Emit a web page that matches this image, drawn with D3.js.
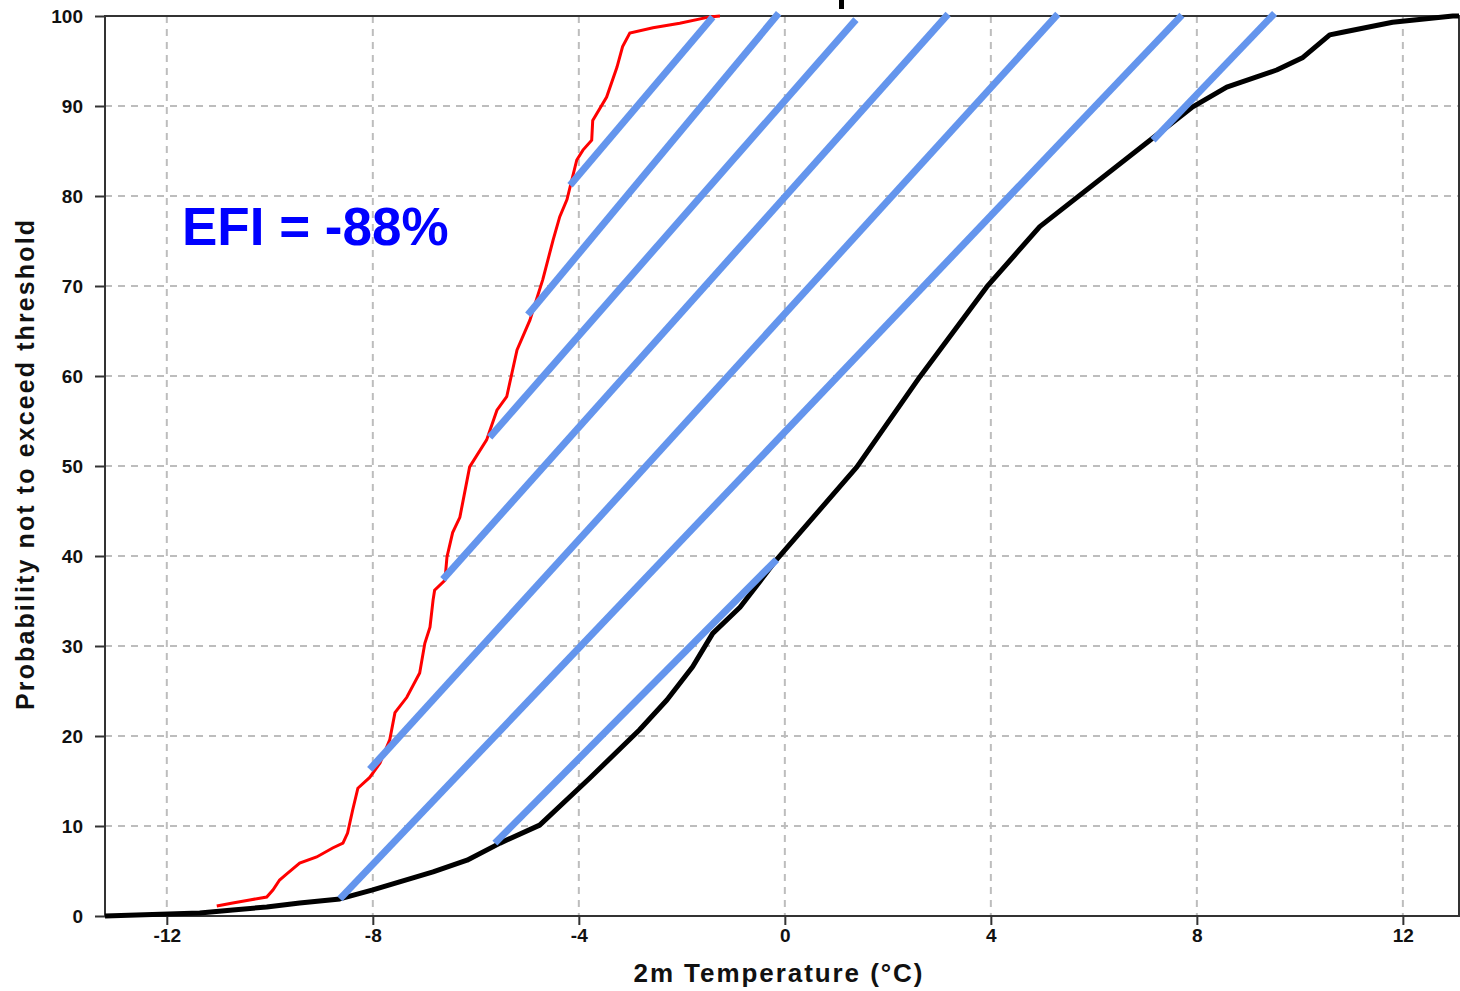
<!DOCTYPE html>
<html>
<head>
<meta charset="utf-8">
<script src="https://cdn.jsdelivr.net/npm/d3@7"></script>
<style>
  html, body { margin: 0; padding: 0; background: #fff; }
  svg { display: block; }
  text { font-family: "Liberation Sans", Arial, sans-serif; font-weight: bold; }
</style>
</head>
<body>
<svg id="chart" width="1460" height="991"></svg>
<script>
// ---- Data ----
const xTicks = [-12, -8, -4, 0, 4, 8, 12];
const yTicks = [0, 10, 20, 30, 40, 50, 60, 70, 80, 90, 100];

// Model climate CDF (black)
const climateT = [-13.2, -11.36, -10.72, -10.06, -9.42, -8.64, -8.0, -7.48, -6.83, -6.17, -5.53, -4.76, -3.79, -2.82, -2.29, -1.79, -1.40, -0.87, -0.16, 1.40, 2.62, 3.92, 4.95, 7.09, 7.92, 8.58, 9.55, 10.06, 10.58, 10.83, 11.8, 12.97, 13.09];
const climateP = [0, 0.33, 0.67, 1.0, 1.44, 1.9, 2.9, 3.8, 4.9, 6.2, 8.1, 10.1, 15.3, 20.7, 24.0, 27.7, 31.4, 34.3, 39.6, 49.9, 59.9, 69.9, 76.6, 86.2, 89.9, 92.1, 94.0, 95.4, 97.9, 98.2, 99.3, 100, 100];

// Ensemble forecast CDF (red)
const ensembleT = [-11.03, -10.72, -10.39, -10.06, -9.94, -9.81, -9.67, -9.42, -9.09, -8.78, -8.58, -8.49, -8.39, -8.29, -8.06, -7.86, -7.67, -7.57, -7.34, -7.09, -6.99, -6.89, -6.83, -6.80, -6.60, -6.56, -6.45, -6.31, -6.12, -5.79, -5.59, -5.40, -5.20, -4.95, -4.70, -4.50, -4.37, -4.23, -4.17, -4.04, -3.92, -3.75, -3.73, -3.46, -3.26, -3.15, -3.01, -2.56, -2.04, -1.46, -1.26];
const ensembleP = [1.11, 1.44, 1.78, 2.11, 2.89, 4.0, 4.67, 5.89, 6.56, 7.56, 8.11, 9.22, 11.8, 14.2, 15.4, 17.0, 19.6, 22.6, 24.3, 27.0, 30.3, 32.1, 35.1, 36.2, 37.3, 39.9, 42.6, 44.3, 49.9, 52.9, 56.2, 57.7, 62.9, 66.2, 70.7, 75.1, 77.7, 79.6, 81.0, 84.0, 85.1, 86.2, 88.4, 91.0, 94.3, 96.6, 98.1, 98.7, 99.2, 99.9, 100];

// Blue hatching segments
const segStartT = [-4.17, -4.99, -5.73, -6.64, -8.06, -8.64, -5.63, 7.15];
const segStartP = [81.2, 66.8, 53.2, 37.4, 16.3, 1.9, 8.1, 86.2];
const segEndT   = [-1.40, -0.12, 1.38, 3.17, 5.30, 7.71, -0.16, 9.51];
const segEndP   = [99.9, 100.3, 99.6, 100.2, 100.2, 100.1, 39.6, 100.3];

const efiLabel = "EFI = -88%";
const xTitle = "2m Temperature (°C)";
const yTitle = "Probability not to exceed threshold";

// ---- Chart ----
const svg = d3.select("#chart");
const plotL = 105, plotR = 1459, plotT = 16, plotB = 916;

const x = d3.scaleLinear().domain([-13.2, 13.09]).range([plotL, plotR]);
const y = d3.scaleLinear().domain([0, 100]).range([plotB, plotT]);

// Grid
const grid = svg.append("g").attr("stroke", "#bdbdbd").attr("stroke-width", 2).attr("stroke-dasharray", "7,6").attr("fill", "none");
grid.selectAll("line.v").data(xTicks).join("line").attr("class", "v")
  .attr("x1", d => x(d)).attr("x2", d => x(d)).attr("y1", plotT).attr("y2", plotB);
grid.selectAll("line.h").data(yTicks.filter(d => d > 0 && d < 100)).join("line").attr("class", "h")
  .attr("x1", plotL).attr("x2", plotR).attr("y1", d => y(d)).attr("y2", d => y(d));

// Axes
const fmt = d => String(d);
const xAxis = svg.append("g").attr("transform", `translate(0,${plotB})`)
  .call(d3.axisBottom(x).tickValues(xTicks).tickSize(9).tickSizeOuter(0).tickPadding(4).tickFormat(fmt));
const yAxis = svg.append("g").attr("transform", `translate(${plotL},0)`)
  .call(d3.axisLeft(y).tickValues(yTicks).tickSize(10).tickSizeOuter(0).tickPadding(12).tickFormat(fmt));
[xAxis, yAxis].forEach(a => {
  a.select(".domain").remove();
  a.selectAll(".tick line").attr("stroke", "#333").attr("stroke-width", 2);
  a.selectAll(".tick text").attr("fill", "#111").style("font-size", "19px").style("font-family", "'Liberation Sans', Arial, sans-serif").style("font-weight", "bold");
});

// Frame
svg.append("rect").attr("x", plotL).attr("y", plotT).attr("width", plotR - plotL).attr("height", plotB - plotT)
  .attr("fill", "none").attr("stroke", "#333").attr("stroke-width", 2);

// Lines
const climate = climateT.map((t, i) => [t, climateP[i]]);
const ensemble = ensembleT.map((t, i) => [t, ensembleP[i]]);
const line = d3.line().x(d => x(d[0])).y(d => y(d[1]));

svg.append("path").datum(climate).attr("d", line)
  .attr("fill", "none").attr("stroke", "#000").attr("stroke-width", 5).attr("stroke-linejoin", "round");

svg.append("path").datum(ensemble).attr("d", line)
  .attr("fill", "none").attr("stroke", "#ff0000").attr("stroke-width", 3).attr("stroke-linejoin", "miter");

const segs = segStartT.map((t, i) => ({ x1: t, y1: segStartP[i], x2: segEndT[i], y2: segEndP[i] }));
svg.append("g").selectAll("line").data(segs).join("line")
  .attr("x1", d => x(d.x1)).attr("y1", d => y(d.y1))
  .attr("x2", d => x(d.x2)).attr("y2", d => y(d.y2))
  .attr("stroke", "#6495ED").attr("stroke-width", 7).attr("stroke-linecap", "butt");

// EFI label
svg.append("text").attr("x", 182).attr("y", 245).attr("fill", "#0000ff")
  .style("font-size", "53px").text(efiLabel);

// Axis titles
svg.append("text").attr("x", 778).attr("y", 982).attr("text-anchor", "middle")
  .attr("textLength", 289).attr("lengthAdjust", "spacing")
  .attr("fill", "#111").style("font-size", "26px").text(xTitle);

svg.append("text").attr("transform", "translate(34,465) rotate(-90)").attr("text-anchor", "middle")
  .attr("textLength", 490).attr("lengthAdjust", "spacing")
  .attr("fill", "#111").style("font-size", "25px").text(yTitle);

// Remnant of a clipped title glyph at the very top edge
svg.append("rect").attr("x", 839).attr("y", 0).attr("width", 5).attr("height", 9).attr("fill", "#000");
</script>
</body>
</html>
